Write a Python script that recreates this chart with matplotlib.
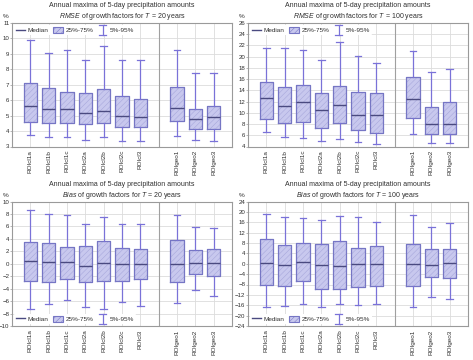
import numpy as np
import matplotlib
matplotlib.use('Agg')
import matplotlib.pyplot as plt
from matplotlib.lines import Line2D
from matplotlib.patches import Patch
from matplotlib.legend_handler import HandlerBase

plt.rcParams['font.family'] = ['Liberation Sans', 'DejaVu Sans']
plt.rcParams['mathtext.fontset'] = 'custom'
plt.rcParams['mathtext.rm'] = 'Liberation Sans'
plt.rcParams['mathtext.it'] = 'Liberation Sans:italic'
plt.rcParams['hatch.linewidth'] = 0.35

categories = ['ROIcl1a', 'ROIcl1b', 'ROIcl1c', 'ROIcl2a', 'ROIcl2b', 'ROIcl2c', 'ROIcl3',
              'ROIgeo1', 'ROIgeo2', 'ROIgeo3']

# RMSE, T = 20 years
rmse20_p5 = [3.75, 3.60, 3.60, 3.45, 3.60, 3.33, 3.35, 3.68, 3.45, 3.37]
rmse20_q1 = [4.60, 4.52, 4.50, 4.48, 4.50, 4.25, 4.25, 4.63, 4.12, 4.12]
rmse20_med = [5.62, 5.42, 5.41, 5.18, 5.28, 4.97, 4.90, 5.52, 4.75, 4.90]
rmse20_q3 = [7.10, 6.78, 6.55, 6.47, 6.70, 6.30, 6.08, 6.87, 5.43, 5.63]
rmse20_p95 = [9.88, 9.05, 9.25, 8.60, 9.48, 8.60, 8.58, 9.25, 7.76, 7.73]

# RMSE, T = 100 years
rmse100_p5 = [6.5, 5.7, 5.5, 5.0, 5.3, 4.8, 4.5, 6.2, 4.6, 4.6]
rmse100_q1 = [8.9, 8.1, 8.4, 7.3, 8.2, 6.9, 6.4, 9.0, 6.2, 6.2]
rmse100_med = [12.7, 11.3, 11.9, 10.5, 11.4, 9.6, 9.6, 12.5, 8.0, 8.0]
rmse100_q3 = [15.5, 14.6, 15.0, 13.6, 14.8, 13.7, 13.5, 16.4, 11.0, 12.0]
rmse100_p95 = [21.5, 21.6, 21.2, 19.4, 22.7, 20.1, 18.9, 21.1, 17.3, 17.8]

# Bias, T = 20 years
bias20_p5 = [-7.25, -6.5, -5.9, -6.9, -7.2, -6.1, -6.85, -6.35, -4.15, -5.2]
bias20_q1 = [-2.85, -3.0, -2.47, -3.0, -2.85, -2.7, -2.47, -3.0, -1.72, -1.93]
bias20_med = [0.38, 0.21, 0.21, -0.43, 0.08, -0.1, -0.1, -0.1, 0.2, 0.05]
bias20_q3 = [3.44, 3.39, 2.7, 2.82, 3.68, 2.53, 2.42, 3.82, 2.2, 2.42]
bias20_p95 = [8.62, 7.95, 7.8, 6.34, 7.46, 6.45, 6.34, 7.8, 5.9, 5.8]

# Bias, T = 100 years
bias100_p5 = [-16.5, -16.1, -15.35, -16.5, -15.35, -16.0, -15.5, -16.5, -12.8, -13.4]
bias100_q1 = [-8.26, -8.6, -6.6, -9.6, -9.6, -9.0, -8.4, -8.65, -5.16, -5.55]
bias100_med = [0.1, -0.65, 0.5, -0.6, -0.77, -0.13, -0.13, -0.26, -0.5, 0.13]
bias100_q3 = [9.6, 7.35, 7.87, 7.6, 8.65, 6.06, 6.7, 7.74, 5.55, 5.8]
bias100_p95 = [19.2, 18.1, 17.8, 16.8, 18.45, 18.2, 16.26, 18.7, 14.06, 15.6]

positions = [1, 2, 3, 4, 5, 6, 7, 9, 10, 11]

face_col = '#c8c8ee'
hatch_col = '#a4a4da'
edge_col = '#7676c4'
whisk_col = '#7a72d8'
med_col = '#4a4a80'
grid_col = '#dcdcdc'
frame_col = '#9a9a9a'
txt_col = '#303030'


class Whisker(object):
    pass


class WhiskerHandler(HandlerBase):
    def create_artists(self, legend, orig_handle, xdescent, ydescent,
                       width, height, fontsize, trans):
        cx = width / 2.0 - xdescent
        y0 = -ydescent - height * 0.25
        y1 = -ydescent + height * 1.25
        cw = width * 0.35
        arts = [Line2D([cx, cx], [y0, y1]),
                Line2D([cx - cw, cx + cw], [y0, y0]),
                Line2D([cx - cw, cx + cw], [y1, y1])]
        for a in arts:
            a.set_color(whisk_col)
            a.set_linewidth(0.9)
            a.set_transform(trans)
        return arts


def plot_panel(ax, p5, q1, med, q3, p95, ylim, ystep, what, T, legend_loc):
    stats = []
    for i in range(len(categories)):
        stats.append(dict(whislo=p5[i], q1=q1[i], med=med[i], q3=q3[i],
                          whishi=p95[i], fliers=[], label=categories[i]))

    ax.set_ylim(ylim)
    ax.set_yticks(np.arange(ylim[0], ylim[1] + ystep / 2.0, ystep))
    ax.grid(True, color=grid_col, linewidth=0.6)
    ax.set_axisbelow(True)
    ax.axvline(8, color='#a0a0a0', linewidth=0.8, zorder=1)

    # hatched boxes 25%-75%
    ax.bar(positions, np.array(q3) - np.array(q1), bottom=q1, width=0.72,
           color=face_col, edgecolor=hatch_col, hatch='//////', linewidth=0, zorder=2)
    ax.bxp(stats, positions=positions, widths=0.72, showfliers=False,
           boxprops=dict(color=edge_col, linewidth=0.9),
           whiskerprops=dict(color=whisk_col, linewidth=0.9),
           capprops=dict(color=whisk_col, linewidth=0.9),
           medianprops=dict(color=med_col, linewidth=1.0),
           manage_ticks=False, zorder=3)

    # grid lines at every category slot, labels only where there is a box
    ax.set_xticks(range(1, 12))
    ax.set_xticklabels([categories[positions.index(p)] if p in positions else ''
                        for p in range(1, 12)],
                       rotation=90, fontsize=4.6, color=txt_col)
    ax.set_xlim(0, 12)
    ax.tick_params(axis='y', labelsize=4.4, labelcolor=txt_col, length=1.2, width=0.5,
                   color=frame_col, pad=0.6)
    ax.tick_params(axis='x', length=0, pad=2.5)
    for sp in ax.spines.values():
        sp.set_color(frame_col)
        sp.set_linewidth(0.8)

    title = ('Annual maxima of 5-day precipitation amounts\n'
             r'$\it{%s}$ of growth factors for $\it{T}$ = %d years' % (what, T))
    ax.set_title(title, fontsize=5.0, color=txt_col, pad=3.5, linespacing=1.25)
    ax.text(-0.03, 1.03, '%', transform=ax.transAxes, fontsize=4.6, color=txt_col,
            ha='center', va='bottom')

    handles = [Line2D([], [], color=med_col, linewidth=1.0),
               Patch(facecolor=face_col, edgecolor=edge_col, hatch='//////', linewidth=0.8),
               Whisker()]
    labels = ['Median', '25%-75%', '5%-95%']
    leg = ax.legend(handles, labels, loc=legend_loc, ncol=3, fontsize=4.6,
                    handler_map={Whisker: WhiskerHandler()},
                    frameon=True, framealpha=1, facecolor='white', edgecolor='none',
                    handlelength=1.5, handleheight=1.2, handletextpad=0.4,
                    columnspacing=0.7, borderpad=0.3, borderaxespad=0.3)
    for t in leg.get_texts():
        t.set_color(txt_col)
    leg.set_zorder(5)


fig = plt.figure(figsize=(4.73, 3.60), dpi=100)
fig.patch.set_facecolor('white')

W, H = 473.0, 360.0
ax1 = fig.add_axes([12 / W, 1 - 146.5 / H, 220 / W, 123.5 / H])
ax2 = fig.add_axes([248 / W, 1 - 146.5 / H, 220 / W, 123.5 / H])
ax3 = fig.add_axes([12 / W, 1 - 326 / H, 220 / W, 124.5 / H])
ax4 = fig.add_axes([248 / W, 1 - 326 / H, 220 / W, 124.5 / H])

plot_panel(ax1, rmse20_p5, rmse20_q1, rmse20_med, rmse20_q3, rmse20_p95,
           (3, 11), 1, 'RMSE', 20, 'upper left')
plot_panel(ax2, rmse100_p5, rmse100_q1, rmse100_med, rmse100_q3, rmse100_p95,
           (4, 26), 2, 'RMSE', 100, 'upper left')
plot_panel(ax3, bias20_p5, bias20_q1, bias20_med, bias20_q3, bias20_p95,
           (-10, 10), 2, 'Bias', 20, 'lower left')
plot_panel(ax4, bias100_p5, bias100_q1, bias100_med, bias100_q3, bias100_p95,
           (-24, 24), 4, 'Bias', 100, 'lower left')

plt.savefig('out.png', dpi=100)
